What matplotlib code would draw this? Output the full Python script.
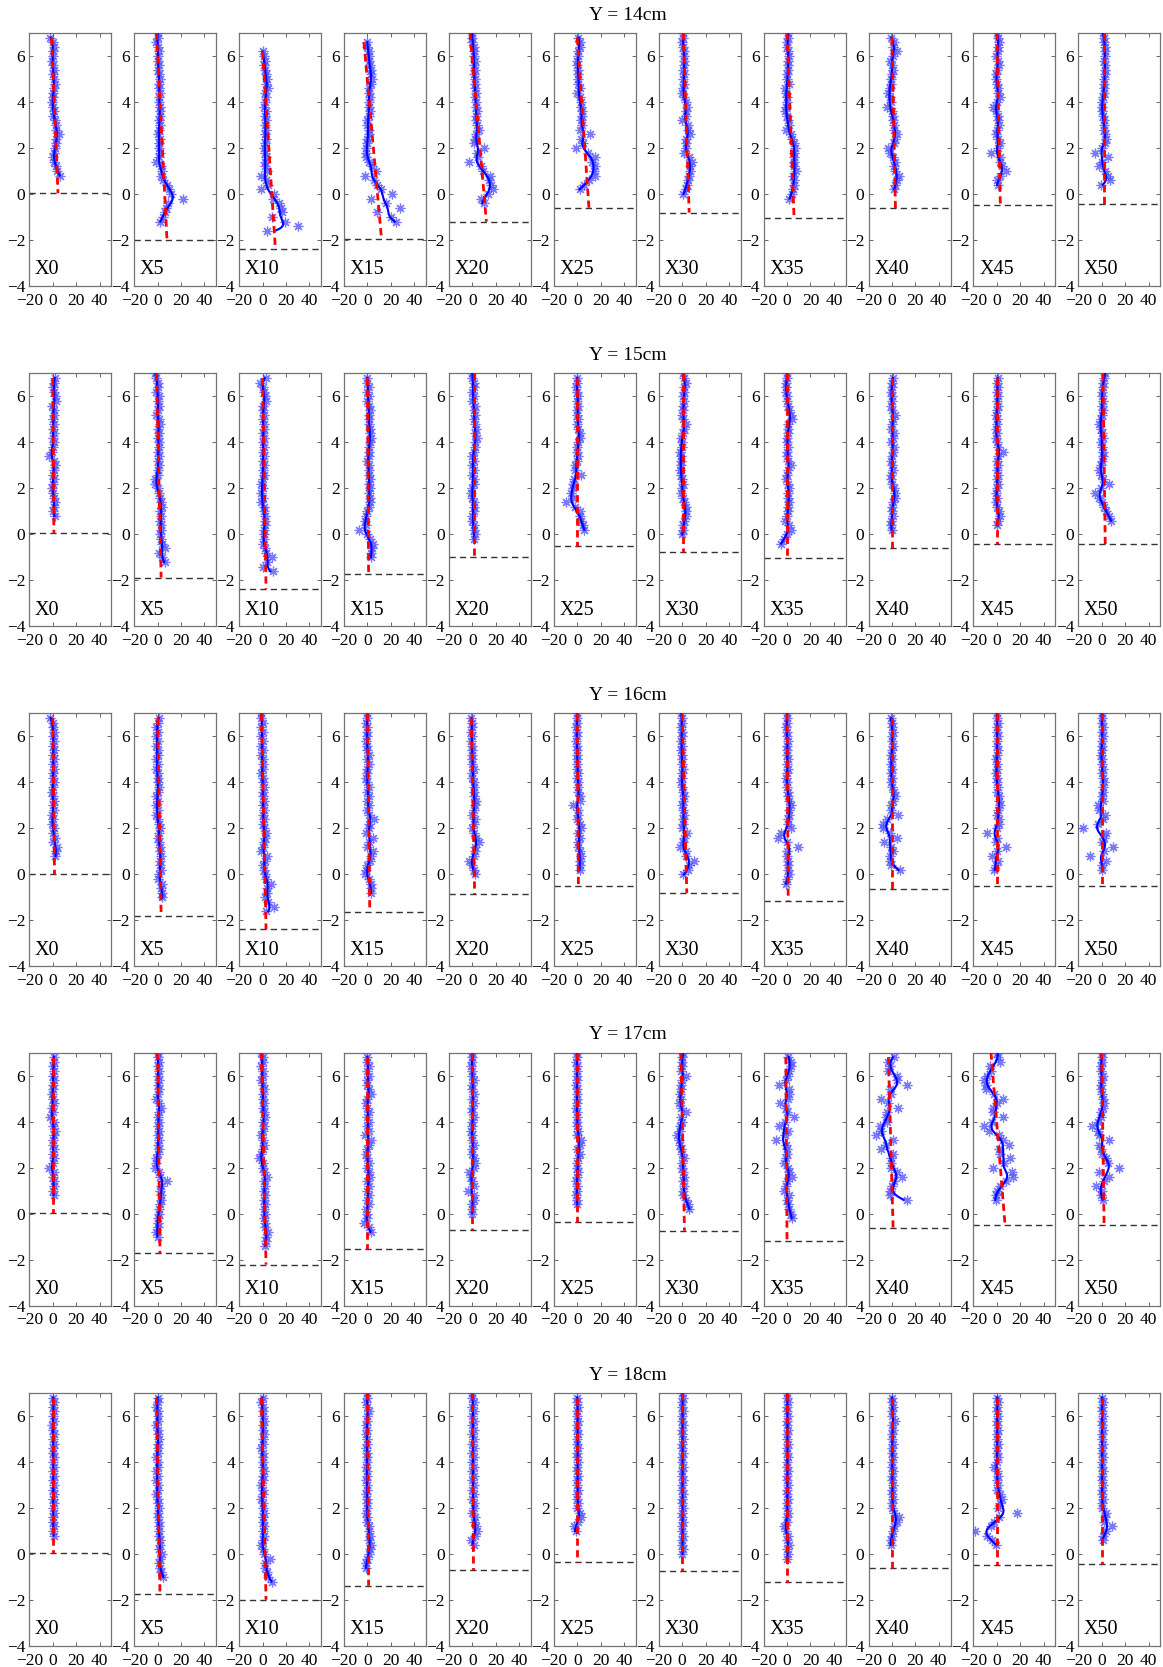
import numpy as np
import matplotlib
matplotlib.use("Agg")
import matplotlib.pyplot as plt

plt.rcParams['font.family'] = ['Liberation Serif', 'DejaVu Serif']
plt.rcParams['axes.unicode_minus'] = True

# ---------------- data ----------------
# sampled depths (y) shared by all panels, top to bottom
DEPTHS = [7.0, 6.8, 6.6, 6.4, 6.2, 6.0, 5.8, 5.6, 5.4, 5.2, 5.0, 4.8, 4.6, 4.4,
          4.2, 4.0, 3.8, 3.6, 3.4, 3.2, 3.0, 2.8, 2.6, 2.4, 2.2, 2.0, 1.8, 1.6,
          1.4, 1.2, 1.0, 0.8, 0.6, 0.4, 0.2, 0.0, -0.2, -0.4, -0.6, -0.8, -1.0,
          -1.2, -1.4, -1.6, -1.8, -2.0, -2.2, -2.4]

STATIONS = ['X0', 'X5', 'X10', 'X15', 'X20', 'X25', 'X30', 'X35', 'X40', 'X45', 'X50']
ROW_TITLES = ['Y = 14cm', 'Y = 15cm', 'Y = 16cm', 'Y = 17cm', 'Y = 18cm']

# ---- Y = 14cm ----
Y14_TOP = [6.8, 7.0, 6.2, 6.6, 7.0, 6.8, 7.0, 7.0, 6.8, 7.0, 7.0]
Y14_PTS = [
    [-2, 0, 1, 0, 0, -0.5, 0, 1, 0, 1, 2, 1, 0, 0, -0.5, 0, 1, 0, 2, 3, 3, 5, 3, 3, 2, 1, 0, 1, 3, 4, 6],
    [0, 0, -1, 0, 1, 0, 0, 1, 0, 1, 2, 1, 1, 2, 1, 1, 2, 2, 2, 1, 2, 1, 0, 2, 1, 1, 2, 1, -1, 3, 4, 3, 5, 8, 10, 11, 22, 9, 7, 6, 5, 2],
    [0, 1, 2, 1, 2, 3, 4, 3, 5, 2, 3, 2, 1, 3, 2, 3, 2, 3, 2, 3, 2, 1, 2, 3, 2, 2, 4, -1, 3, 5, -1, 10, 9, 14, 16, 17, 8, 19, 30, 4],
    [0, 0, 1, 1, 1, 2, 3, 3, 4, 3, 1, 1, 2, 1, 1, 2, 1, 0, 0, 1, 1, 0, 0, -1, -1, -1, 1, 4, 7, -2, 6, 8, 12, 21, 3, 16, 28, 8, 20, 24],
    [0, 0, 0, 1, 1, 1, 2, 1, 2, 1, 2, 2, 2, 3, 2, 3, 3, 4, 3, 3, 4, 6, 3, 2, 1, 10, 4, 5, -3, 7, 9, 15, 14, 16, 18, 13, 7, 10],
    [1, 2, 2, 1, 1, 0, 0, 1, 1, 1, 1, 2, 0, 2, 3, 3, 4, 4, 3, 4, 2, 11, 3, 5, -1, 9, 15, 13, 15, 14, 15, 10, 6, 2],
    [1, 1, 0, 1, 2, 2, 2, 2, 1, 2, 1, 2, 1, 0, 2, 3, 4, 3, 3, 0, 5, 5, 7, 3, 3, 3, 2, 6, 8, 7, 7, 6, 5, 4, 3, 1],
    [1, 1, 0, 0, 1, 2, 1, 1, 1, 0, 0, 2, -2, -1, 0, 0, -1, -2, 0, 1, 2, -1, 3, 4, 6, 7, 6, 6, 6, 6, 8, 5, 6, 6, 5, 4, 2],
    [-1, 2, 1, 4, 1, -2, 0, 1, 0, -1, -1, -2, -3, -2, -1, -4, 0, 1, 1, 2, 2, 4, 3, 2, -3, -2, 1, 3, 2, 3, 6, 4, 3, 2],
    [0, 1, 2, 1, 1, -1, 1, 2, 0, -1, -1, 0, 1, 1, 3, 0, -3, -1, 1, 1, 2, 0, -1, 1, 3, 1, -5, 3, 3, 4, 8, 3, 0, 1],
    [1, 2, 2, 3, 3, 3, 2, 3, 3, 3, 2, 2, 2, 2, 1, 0, 0, 0, 1, 2, 2, 2, 3, 4, 3, 0, -6, 5, 0, -2, 3, 5, 7, -1],
]
Y14_FLOOR = [0.03, -2.0, -2.39, -1.94, -1.2, -0.61, -0.81, -1.03, -0.61, -0.48, -0.45]
Y14_FIT_TOP = [-1, -1, 0, -3, -2, 0, 1, 0, 0, 0, 2]
Y14_FIT_BOT = [4.5, 8, 11, 12, 12, 10, 6, 6, 3, 3, 2]

# ---- Y = 15cm ----
Y15_TOP = [6.8, 7.0, 6.8, 6.8, 7.0, 6.8, 7.0, 7.0, 6.8, 6.8, 7.0]
Y15_PTS = [
    [2, 1, 0, 1, 2, 3, -1, 1, 1, 0, 1, 0, 1, 0, 1, 0, -1, -3, 1, 2, 1, 0, 1, 0, -1, 0, 1, 2, 1, 0, 2],
    [-2, -1, 0, 0, -1, 1, 0, 1, 0, -1, 1, 2, 0, 1, 0, 1, 1, 0, 1, 0, 1, 0, 0, -2, -2, 0, 1, 2, 3, 4, 2, 3, 2, 3, 3, 2, 3, 4, 6, 1, 4, 6],
    [3, -2, 0, 1, 2, 3, 0, 0, 1, 0, 1, 1, 0, 1, 0, 1, 0, 1, 0, 1, 0, 1, 0, -1, 0, -1, 0, -1, 1, 1, 2, 2, 2, 1, 1, 1, 0, 2, 3, 8, 4, 0, 9],
    [0, 0, 1, 0, 1, 0, 1, 2, 1, 1, 1, 2, 2, 3, 2, 1, 1, 1, 0, 1, 1, 1, 2, 1, 2, 1, 2, 2, 1, 0, -1, -2, -1, -7, 0, 2, 5, 4, 3, 3],
    [0, 0, 1, 1, 0, 1, 0, 2, 1, 2, 1, 2, 3, 2, 4, 2, 2, 1, 0, 1, 0, 1, 0, 1, 1, 0, -1, 0, 1, 1, 1, 0, 0, 1, 1, 2, 1],
    [0, 0, -1, 0, 1, 0, 1, 0, 0, 1, 0, 1, 2, 2, 1, 0, 0, 1, 0, -2, -2, 3, -3, -4, -4, -5, -4, -10, -2, 2, 2, 3, 5, 6],
    [1, 2, 3, 2, 2, 1, 2, 1, 1, 0, 1, 3, 2, 1, -1, 0, 0, -2, -1, -1, -1, -2, -1, 0, 1, 0, -1, 1, 2, 3, 3, 3, 2, 1, 1, 0],
    [0, 0, -1, -1, -1, 0, 0, 1, 2, 3, 4, 1, 1, 1, 0, 0, 1, 0, 0, 1, 3, 1, 0, -1, 1, 2, 1, 1, 2, 1, 1, 0, -2, 2, 3, 0, -3, -5],
    [1, 0, 0, -1, 0, 0, -1, 0, 3, 1, 0, -1, 2, 1, -1, 2, 1, 0, -1, 0, 1, -1, -1, 0, 2, 3, 3, 1, 0, 0, 1, -1, -1, 0],
    [1, 0, 1, 0, 1, 0, 1, 0, -1, 0, 0, -1, 0, -1, 0, 1, 5, 1, 0, 1, 0, 1, 0, 1, 0, -1, 0, -1, 0, 2, 3, 1, 0],
    [3, 2, 1, 1, 0, 0, 1, 0, 1, 0, -1, -2, -1, 0, 1, -1, 0, 1, 1, 0, -1, -2, -1, 1, 6, -1, -6, -2, 0, 2, 4, 6, 8],
]
Y15_FLOOR = [0.07, -1.87, -2.36, -1.7, -0.96, -0.48, -0.75, -1.01, -0.58, -0.4, -0.42]
Y15_FIT_TOP = [0, -1, 0, 0, 1, 0, 1, 0, 0, 0, 1]
Y15_FIT_BOT = [1, 3, 3, 1, 1, 0, 1, 0, 0, 0, 3]

# ---- Y = 16cm ----
Y16_TOP = [6.8, 6.8, 7.0, 7.0, 6.8, 7.0, 7.0, 7.0, 6.8, 7.0, 7.0]
Y16_PTS = [
    [-2, 0, 0, 1, 0, 1, 0, 1, 0, 1, 0, 1, 0, 0, 1, 0, -1, 0, 1, 0, 1, -1, 0, -1, 1, 0, 2, 0, 4, 3, 2],
    [1, 0, -1, 0, -1, 0, -1, 0, 0, -1, 0, -1, 0, 0, 0, 1, 0, -1, 0, -1, 0, -1, 0, 1, 2, 1, 0, 1, 2, 2, 3, 2, 2, 3, 1, 0, 4, 3, 4, 4],
    [-1, -1, 0, -1, 0, -1, 0, -1, 0, -1, 0, 0, 0, -1, 0, 0, 1, 0, 0, 1, 0, 1, 0, 1, 0, 1, 3, 2, 1, 0, -1, 4, 2, 0, 1, 2, 3, 7, 4, 4, 2, 5, 10, 3],
    [0, 0, -1, 0, 0, 0, -1, 0, 0, 1, 0, 1, 0, 0, -1, 0, 1, 0, 1, 0, 1, 0, 1, 6, 1, 1, -1, 5, 1, 0, 5, 3, 2, 0, -1, -2, 1, 3, 3, 3],
    [-1, 0, 0, -1, 0, -1, 0, 0, 0, 0, 0, 1, 0, 0, 1, 1, 1, 1, 3, 2, 1, 0, 2, 1, 0, 1, 3, 6, 2, 2, 1, -3, 0, 1, 2],
    [0, 0, 0, -1, 0, 0, -1, 0, 0, 0, 0, 0, 0, 1, 0, 1, 1, 1, 2, 2, -4, 1, 1, 0, 2, 3, 1, 2, 1, 1, 2, 3, 2, 2, 2],
    [-1, 0, 0, -1, 0, 0, -1, 0, -1, 0, 0, 0, 1, 0, 0, -1, 0, 1, 2, 1, 0, 1, 2, 1, 1, 0, 4, 2, 1, -2, 3, 3, 10, 6, 5, 1],
    [0, 0, 0, -1, 0, 0, 1, 0, 0, 0, 1, 0, 1, 0, -1, 0, 0, 1, 1, 2, 3, 2, 2, 1, 1, 3, -5, -8, 0, 9, 0, 0, 1, 1, 1, 2, 0, -1],
    [-1, 0, 0, 1, 0, 0, 1, 0, -1, 0, -1, 0, -1, 0, -1, 0, 2, 3, 1, -1, -1, 5, -4, -8, -8, -2, 4, -7, -1, 1, -2, -2, -1, 7],
    [0, 0, 1, 0, 0, 1, 0, 0, 1, 0, -1, 0, 0, -1, 0, 0, 1, 0, 2, 2, 3, 1, 0, 2, 2, 0, -8, 0, -1, 8, 0, -4, 1, -1, -2],
    [0, 0, 0, 1, 0, 1, 0, 0, 0, -1, 0, 0, 1, 0, 1, 2, 1, 1, 0, 1, -3, -2, 3, 1, -3, -16, 4, 2, 0, 10, 2, -10, 4, 0, 0],
]
Y16_FLOOR = [0.0, -1.8, -2.38, -1.61, -0.86, -0.49, -0.8, -1.14, -0.65, -0.51, -0.51]
Y16_FIT_TOP = [0, 0, -1, 0, -1, 0, 0, 0, 0, 0, 0]
Y16_FIT_BOT = [1.5, 3, 3, 2, 2, 1, 4, 1, 0, 0, 0]

# ---- Y = 17cm ----
Y17_TOP = [6.8, 7.0, 7.0, 6.8, 7.0, 7.0, 7.0, 6.8, 6.8, 7.0, 7.0]
Y17_PTS = [
    [1, 1, 0, 1, 0, 1, 0, 0, -1, 0, 1, -1, 0, -2, 1, 0, 2, 1, 0, 0, 1, 0, 1, 0, -3, 1, 0, 1, 1, 0, 1],
    [0, 0, 1, 0, 1, 0, 1, 0, 1, 0, -1, 1, 3, 1, 0, 1, 0, 1, 0, 1, 0, 1, 0, -1, -1, -2, 1, 2, 8, 3, 2, 3, 3, 2, 1, 1, 0, 0, 0, -1, 0],
    [-1, 0, 0, -1, 0, 0, -1, 0, 1, 0, 0, 1, 0, 1, 2, 0, 1, 0, -1, 0, 1, 0, -1, -3, 0, 0, 1, 4, 1, 2, 1, 2, 1, 2, 1, 2, 1, 2, 2, 5, 3, 3, 2],
    [0, 0, 1, 0, 1, 0, 0, 1, 3, 0, -1, 0, 1, 0, 1, 0, 1, -2, 3, 1, 0, -1, 0, 1, 0, 1, 2, 0, 1, 0, 1, 0, 1, -1, 0, 0, -3, 1, 3],
    [0, 0, 0, -1, 0, 0, 1, 0, 0, 1, 0, 1, 0, 0, 1, 0, 0, -1, 0, 0, 1, 0, 0, 1, 2, 1, -3, -1, 0, 1, -4, 1, 1, 0, 0, 0],
    [0, 0, -1, 0, 0, 0, 0, -1, 0, 0, 0, 0, -1, 0, 0, 0, 0, 1, 0, 3, 2, 0, 2, 1, 0, 0, 1, 0, -1, 0, 0, -1, 0, 0],
    [1, 0, 0, 0, -1, 3, 0, -1, -1, -2, -1, -3, -1, 3, -1, 0, -2, -2, -4, -3, -2, -1, 0, 2, 0, 0, 1, 2, 1, 2, 1, 1, 3, 5, 6],
    [1, 3, 3, 2, 1, -1, -7, 2, 2, 1, -6, -1, 0, 6, -2, -7, 1, -2, -9, -1, 0, 0, -1, -3, 1, 2, 4, 0, -1, -3, 2, 0, 1, 2, 3, 4],
    [2, -3, -2, -3, 4, 4, 13, -2, -1, -9, -3, 5, -4, -5, -4, -10, -9, -14, 1, -5, -9, 1, -1, -1, -1, 4, 9, 2, 0, -2, -2, 13],
    [0, 1, 3, -6, -5, -8, -11, -9, -9, -2, 5, 0, -3, -3, 5, -4, -11, -7, 2, 5, 10, 2, 3, 11, 6, -3, 13, 14, 8, 3, 0, -1, -1],
    [0, 0, 0, -1, -1, 1, 0, -1, -1, 0, 1, 2, 1, -1, -1, -3, -8, -3, -2, 6, -2, -1, 0, 4, 5, 15, -2, 6, 2, -5, 0, -1, 1],
]
Y17_FLOOR = [0.03, -1.72, -2.22, -1.54, -0.72, -0.36, -0.75, -1.2, -0.61, -0.48, -0.51]
Y17_FIT_TOP = [0, 0, -1, 0, 0, 0, -1, -1, -3, -5, 0]
Y17_FIT_BOT = [0, 2, 3, 0, 0, 0, 2, 0, 1, 7, 2]

# ---- Y = 18cm ----
Y18_TOP = [6.8, 6.8, 6.8, 7.0, 7.0, 6.8, 7.0, 7.0, 6.8, 6.8, 6.8]
Y18_PTS = [
    [0, 1, 0, 1, 0, 1, -1, 0, 1, 0, 1, 0, 0, 1, 0, 1, 0, 1, 0, 1, 0, 1, 0, 1, 0, 1, 0, 0, 1, 0, 1],
    [0, 0, -1, 0, 0, 0, -1, 0, 0, 1, 0, 0, 0, -1, 0, 0, -1, 0, -1, 0, 0, -1, 0, 0, 1, 0, 0, 1, 1, 1, 1, 2, 2, 1, 4, 2, 1, 2, 3, 5],
    [0, -1, 0, 0, 0, 1, 0, 0, 1, 0, 0, -1, 0, 0, 0, 0, 1, 0, 0, -1, 0, 0, -1, 0, 0, 1, 0, 0, 1, 0, 1, 0, -1, 0, 1, 6, 2, 2, 4, 5, 8],
    [0, 0, -1, 0, 1, 0, 0, -1, 0, -1, 0, 0, -1, 0, 0, 0, -1, 0, 0, -1, 0, 0, -1, 0, 0, 0, -1, 0, 0, 1, 1, 2, 1, 3, 2, 1, 0, -1, -1],
    [0, 0, 1, 0, 1, 0, 1, 0, 1, 0, 1, 0, 1, 0, 1, 0, 1, 0, 1, 0, 1, 0, 1, 0, 1, 1, 0, 2, 1, 3, 4, 2, -1, 1],
    [0, 0, 1, 0, 0, 1, 0, 0, 1, 0, 0, 1, 0, 0, 1, 0, 0, 1, 0, 0, 1, 0, 0, 1, 0, 2, 3, 1, -3, -1],
    [0, 1, 0, 0, 1, 0, 0, 1, 0, 0, 1, 0, 0, 1, 0, 0, 1, 0, 0, 1, 0, 0, 1, 0, 0, 1, 0, 0, 1, 0, 0, 1, 0, 0, 1, 0],
    [0, 0, 1, 0, 0, 1, 0, 0, 1, 0, 0, 1, 0, 0, 1, 0, 0, 1, 0, 0, 1, 0, 0, 1, 0, 0, 1, 0, 0, -3, -1, 1, 0, 2, 0, 1, 0],
    [0, 0, 1, 0, 0, 3, 0, 1, 0, 0, 1, 0, 0, 1, 0, 0, 1, 0, 0, 1, 0, 0, 1, 0, 0, 2, 6, 4, 2, 1, 0, -1, -1],
    [0, 1, 0, 0, 1, 0, 0, 1, 0, 0, 1, 0, 0, 1, 0, -2, 0, 1, 0, 1, 0, 3, 4, 3, 1, 17, 2, -2, -5, -19, -8, -4, -1],
    [0, 1, 0, 0, 1, 0, 0, 1, 0, 0, 1, 0, 0, 1, 0, 0, 1, 0, 0, 1, 0, 0, 1, 0, 0, 4, 3, 2, 9, 4, 1, 1],
]
Y18_FLOOR = [0.03, -1.72, -1.99, -1.38, -0.7, -0.33, -0.75, -1.22, -0.6, -0.47, -0.45]
Y18_FIT_TOP = [0, -1, -1, 0, 0, 0, 0, 0, 0, 0, 0]
Y18_FIT_BOT = [0, 2, 3, 1, 1, 0, 0, 0, 0, 0, 0]

ROWS = [
    (Y14_TOP, Y14_PTS, Y14_FLOOR, Y14_FIT_TOP, Y14_FIT_BOT),
    (Y15_TOP, Y15_PTS, Y15_FLOOR, Y15_FIT_TOP, Y15_FIT_BOT),
    (Y16_TOP, Y16_PTS, Y16_FLOOR, Y16_FIT_TOP, Y16_FIT_BOT),
    (Y17_TOP, Y17_PTS, Y17_FLOOR, Y17_FIT_TOP, Y17_FIT_BOT),
    (Y18_TOP, Y18_PTS, Y18_FLOOR, Y18_FIT_TOP, Y18_FIT_BOT),
]


def local_linear(y, x, yq, h=0.28):
    """Gaussian-weighted local linear smoother (x as a function of y)."""
    out = np.empty_like(yq)
    for i, q in enumerate(yq):
        w = np.exp(-0.5 * ((y - q) / h) ** 2)
        W = w.sum()
        ym = (w * y).sum() / W
        xm = (w * x).sum() / W
        var = (w * (y - ym) ** 2).sum()
        cov = (w * (y - ym) * (x - xm)).sum()
        b = cov / var if var > 1e-9 else 0.0
        out[i] = xm + b * (q - ym)
    return out


# ---------------- layout ----------------
FW, FH = 1163, 1667
fig = plt.figure(figsize=(FW / 100, FH / 100), dpi=100)

COL_LEFT0, COL_STEP = 29.3, 104.9
ROW_TOPS = [33, 373.5, 713.5, 1052.5, 1393]
AX_W, AX_H = 82, 253

MARK = (8, 2, 0)
PT_COLOR = (0.3, 0.3, 1.0)

for r, (tops, pts, floors, ftop, fbot) in enumerate(ROWS):
    top_px = ROW_TOPS[r]
    for c in range(len(STATIONS)):
        left_px = COL_LEFT0 + COL_STEP * c
        ax = fig.add_axes([left_px / FW, 1 - (top_px + AX_H) / FH, AX_W / FW, AX_H / FH])
        i0 = int(round((7.0 - tops[c]) / 0.2))
        xv = np.array(pts[c], dtype=float)
        yv = np.array(DEPTHS[i0:i0 + len(xv)], dtype=float)

        ax.axhline(floors[c], color=(0.2, 0.2, 0.2), lw=1.0, ls=(0, (4.5, 3)), zorder=2)
        ax.plot(xv, yv, ls='none', marker=MARK, ms=7, mew=0.9,
                mec=PT_COLOR, alpha=0.75, zorder=3)
        yq = np.linspace(yv.max(), yv.min(), 200)
        ax.plot(local_linear(yv, xv, yq), yq, color=(0, 0, 1), lw=1.5, zorder=4)
        ax.plot([ftop[c], fbot[c]], [yv.max(), floors[c]], color=(1, 0, 0), lw=2.0,
                ls=(0, (2.6, 1.6)), zorder=5)

        ax.set_xlim(-20, 50)
        ax.set_ylim(-4, 7)
        ax.set_xticks([-20, 0, 20, 40])
        ax.set_yticks([-4, -2, 0, 2, 4, 6])
        ax.tick_params(direction='in', top=True, right=True, length=3, width=0.6,
                       color=(0.3, 0.3, 0.3), labelsize=12.5)
        ax.tick_params(axis='x', pad=5)
        ax.tick_params(axis='y', pad=3)
        for s in ax.spines.values():
            s.set_color((0.45, 0.45, 0.45))
            s.set_linewidth(0.9)
        ax.text(0.07, 0.065, STATIONS[c], transform=ax.transAxes, ha='left',
                va='center', fontsize=14.5)

    fig.text(628 / FW, 1 - (top_px - 18) / FH, ROW_TITLES[r], ha='center',
             va='center', fontsize=14)

fig.savefig('out.png', dpi=100)
